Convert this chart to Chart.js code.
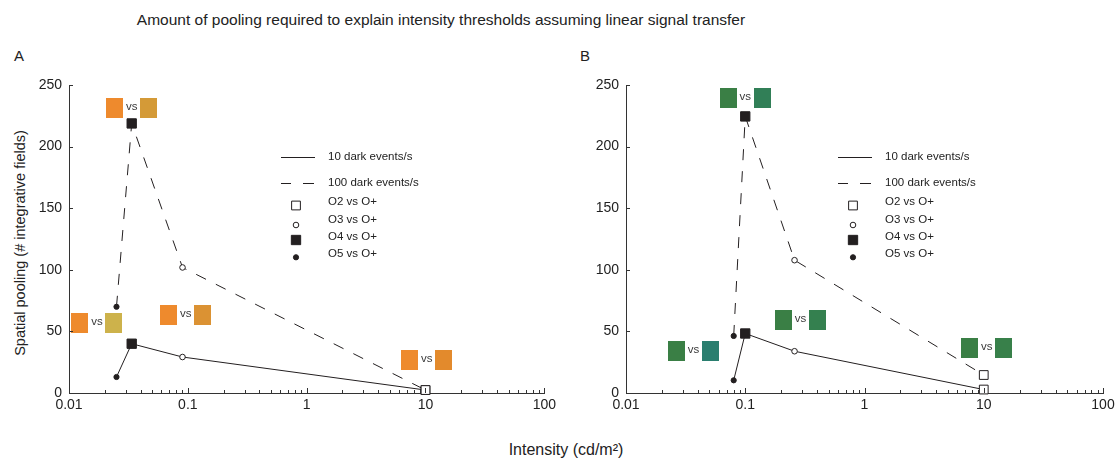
<!DOCTYPE html>
<html><head><meta charset="utf-8">
<script src="https://cdn.jsdelivr.net/npm/chart.js@4.4.1/dist/chart.umd.min.js"></script>
<style>
html,body{margin:0;padding:0;background:#fff;}
body{width:1120px;height:461px;position:relative;overflow:hidden;font-family:"Liberation Sans",Arial,sans-serif;color:#222;}
canvas{position:absolute;top:0;}
.t{position:absolute;white-space:nowrap;transform:translate(-50%,-50%);}
</style></head><body>
<div class="t" style="left:441px;top:20px;font-size:15.5px">Amount of pooling required to explain intensity thresholds assuming linear signal transfer</div>
<div class="t" style="left:19px;top:55px;font-size:15px">A</div>
<div class="t" style="left:585px;top:55px;font-size:15px">B</div>
<div class="t" style="left:20px;top:243px;font-size:14.5px;transform:translate(-50%,-50%) rotate(-90deg)">Spatial pooling (# integrative fields)</div>
<div class="t" style="left:566px;top:450px;font-size:16px">Intensity (cd/m²)</div>
<canvas id="a" width="560" height="461" style="left:0"></canvas>
<canvas id="b" width="560" height="461" style="left:560px"></canvas>
<script>
// comparisons, in order of the points along each curve
const comparisons = ['O5 vs O+', 'O4 vs O+', 'O3 vs O+', 'O2 vs O+'];
// Panel A
const intensityA = [0.0251, 0.0337, 0.0902, 10];
const pool10A = [13, 40, 29.2, 2.4];
const pool100A = [70, 218.8, 101.9, 2.4];
// Panel B
const intensityB = [0.08, 0.1, 0.259, 10];
const pool10B = [10.3, 48.3, 33.9, 2.8];
const pool100B = [46.3, 224.5, 107.8, 14.6];
// ticks
const xTicks = [0.01, 0.1, 1, 10, 100];
const xTickLabels = ['0.01', '0.1', '1', '10', '100'];
const yTicks = [0, 50, 100, 150, 200, 250];
const yTickLabels = ['0', '50', '100', '150', '200', '250'];
// colour-pair labels (centre in data units) and colours
const labelXA = [0.01718, 0.0337, 0.0960, 10.26];
const labelYA = [56.6, 231.3, 63.1, 26.6];
const labelXB = [0.0368, 0.1, 0.290, 10.6];
const labelYB = [33.9, 239.4, 59.1, 36.3];
const firstColorA = ['#EE8A2D', '#EE8A2D', '#EE8A2D', '#EE8A2D'];
const secondColorA = ['#CDB24B', '#D49A37', '#DB9233', '#E38A2C'];
const firstColorB = ['#3A7F45', '#3A7F45', '#3A7F45', '#3A7F45'];
const secondColorB = ['#2A7E6F', '#317F57', '#34804F', '#38804A'];
const seriesNames = ['10 dark events/s', '100 dark events/s'];
const legendOrder = ['O2 vs O+', 'O3 vs O+', 'O4 vs O+', 'O5 vs O+'];

const INK = '#231f20';
const FONT = '"Liberation Sans", Arial, sans-serif';
const markerStyle = {
  'O5 vs O+': {style: 'circle', r: 2.6, fill: INK},
  'O4 vs O+': {style: 'rect', r: 6.6, fill: INK},
  'O3 vs O+': {style: 'circle', r: 2.8, fill: '#ffffff'},
  'O2 vs O+': {style: 'rect', r: 6.2, fill: '#ffffff'}
};

function drawMarker(ctx, m, x, y) {
  ctx.beginPath();
  if (m.style === 'rect') {
    const s = m.r * Math.SQRT1_2;
    ctx.rect(x - s, y - s, 2 * s, 2 * s);
  } else {
    ctx.arc(x, y, m.r, 0, Math.PI * 2);
  }
  ctx.fillStyle = m.fill; ctx.fill();
  ctx.strokeStyle = INK; ctx.lineWidth = 1; ctx.setLineDash([]); ctx.stroke();
}

const axisTicks = {
  id: 'axisTicks',
  afterDraw(chart) {
    const {ctx, chartArea: ca, scales: {x, y}} = chart;
    ctx.save();
    ctx.strokeStyle = '#333'; ctx.lineWidth = 1;
    ctx.beginPath();
    for (let i = 0; i < xTicks.length; i++) {
      const px = Math.round(x.getPixelForValue(xTicks[i])) + 0.5;
      ctx.moveTo(px, ca.bottom); ctx.lineTo(px, ca.bottom - 5);
      if (i < xTicks.length - 1) {
        for (let k = 2; k < 10; k++) {
          const p = Math.round(x.getPixelForValue(xTicks[i] * k)) + 0.5;
          ctx.moveTo(p, ca.bottom); ctx.lineTo(p, ca.bottom - 3);
        }
      }
    }
    yTicks.forEach(v => {
      const py = Math.round(y.getPixelForValue(v)) + 0.5;
      ctx.moveTo(ca.left, py); ctx.lineTo(ca.left + 4, py);
    });
    ctx.stroke();
    ctx.restore();
  }
};

function pairLabels(xs, ys, c1, c2) {
  return {
    id: 'pairs',
    afterDatasetsDraw(chart) {
      const {ctx, scales: {x, y}} = chart;
      ctx.save();
      ctx.font = '11.5px ' + FONT;
      ctx.textAlign = 'center'; ctx.textBaseline = 'middle';
      for (let i = 0; i < xs.length; i++) {
        const cx = x.getPixelForValue(xs[i]);
        const cy = y.getPixelForValue(ys[i]);
        ctx.fillStyle = c1[i]; ctx.fillRect(Math.round(cx - 25.5), Math.round(cy - 10), 17, 20);
        ctx.fillStyle = c2[i]; ctx.fillRect(Math.round(cx + 8.5), Math.round(cy - 10), 17, 20);
        ctx.fillStyle = '#3a3a3a'; ctx.fillText('vs', cx, cy - 1);
      }
      ctx.restore();
    }
  };
}

const legendPlugin = {
  id: 'customLegend',
  afterDraw(chart) {
    const {ctx, chartArea: ca} = chart;
    const L = ca.left, T = ca.top;
    ctx.save();
    ctx.font = '11.5px ' + FONT;
    ctx.fillStyle = '#222'; ctx.textAlign = 'left'; ctx.textBaseline = 'middle';
    ctx.strokeStyle = INK; ctx.lineWidth = 1;
    // solid
    ctx.beginPath(); ctx.moveTo(L + 212, T + 72.5); ctx.lineTo(L + 246, T + 72.5); ctx.stroke();
    ctx.fillText(seriesNames[0], L + 259, T + 72);
    // dashed
    ctx.beginPath();
    ctx.moveTo(L + 212, T + 98.5); ctx.lineTo(L + 222, T + 98.5);
    ctx.moveTo(L + 234, T + 98.5); ctx.lineTo(L + 245, T + 98.5);
    ctx.stroke();
    ctx.fillText(seriesNames[1], L + 259, T + 98);
    const textY = [117.3, 135, 151.7, 169];
    const markY = [120.5, 140, 155, 172.3];
    legendOrder.forEach((name, i) => {
      drawMarker(ctx, markerStyle[name], L + 227, T + markY[i]);
      ctx.fillStyle = '#222';
      ctx.fillText(name, L + 259, T + textY[i]);
    });
    ctx.restore();
  }
};

function makeChart(id, xs, y10, y100, lx, ly, c1, c2, yWidth, padRight) {
  const styles = comparisons.map(c => markerStyle[c].style);
  const radii = comparisons.map(c => markerStyle[c].r);
  const fills = comparisons.map(c => markerStyle[c].fill);
  const mk = (label, ys, dash) => ({
    label,
    data: xs.map((v, i) => ({x: v, y: ys[i]})),
    borderColor: INK, borderWidth: 1, borderDash: dash,
    pointStyle: styles, pointRadius: radii, pointHoverRadius: radii,
    pointBackgroundColor: fills, pointBorderColor: INK, pointBorderWidth: 1,
    tension: 0, fill: false, clip: false
  });
  return new Chart(document.getElementById(id), {
    type: 'line',
    data: {datasets: [mk(seriesNames[0], y10, []), mk(seriesNames[1], y100, [11, 11])]},
    options: {
      responsive: false, animation: false, events: [], devicePixelRatio: 1,
      layout: {padding: {left: 0, top: 85, right: padRight, bottom: 0}},
      plugins: {legend: {display: false}, tooltip: {enabled: false}, title: {display: false}},
      scales: {
        x: {
          type: 'logarithmic', min: 0.01, max: 100,
          afterBuildTicks: s => { s.ticks = xTicks.map(v => ({value: v})); },
          afterFit: s => { s.height = 68; },
          grid: {display: false, drawTicks: false},
          border: {display: true, color: '#333', width: 1},
          ticks: {
            autoSkip: false, maxRotation: 0, padding: 4, color: '#222',
            font: {family: FONT, size: 14},
            callback: (v) => { const i = xTicks.indexOf(v); return i >= 0 ? xTickLabels[i] : ''; }
          }
        },
        y: {
          min: 0, max: 250,
          afterBuildTicks: s => { s.ticks = yTicks.map(v => ({value: v})); },
          afterFit: s => { s.width = yWidth; },
          grid: {display: false, drawTicks: false},
          border: {display: true, color: '#333', width: 1},
          ticks: {
            padding: 7, color: '#222', font: {family: FONT, size: 14},
            callback: (v) => { const i = yTicks.indexOf(v); return i >= 0 ? yTickLabels[i] : ''; }
          }
        }
      }
    },
    plugins: [axisTicks, pairLabels(lx, ly, c1, c2), legendPlugin]
  });
}

makeChart('a', intensityA, pool10A, pool100A, labelXA, labelYA, firstColorA, secondColorA, 69, 14);
makeChart('b', intensityB, pool10B, pool100B, labelXB, labelYB, firstColorB, secondColorB, 66, 17);
</script>
</body></html>
